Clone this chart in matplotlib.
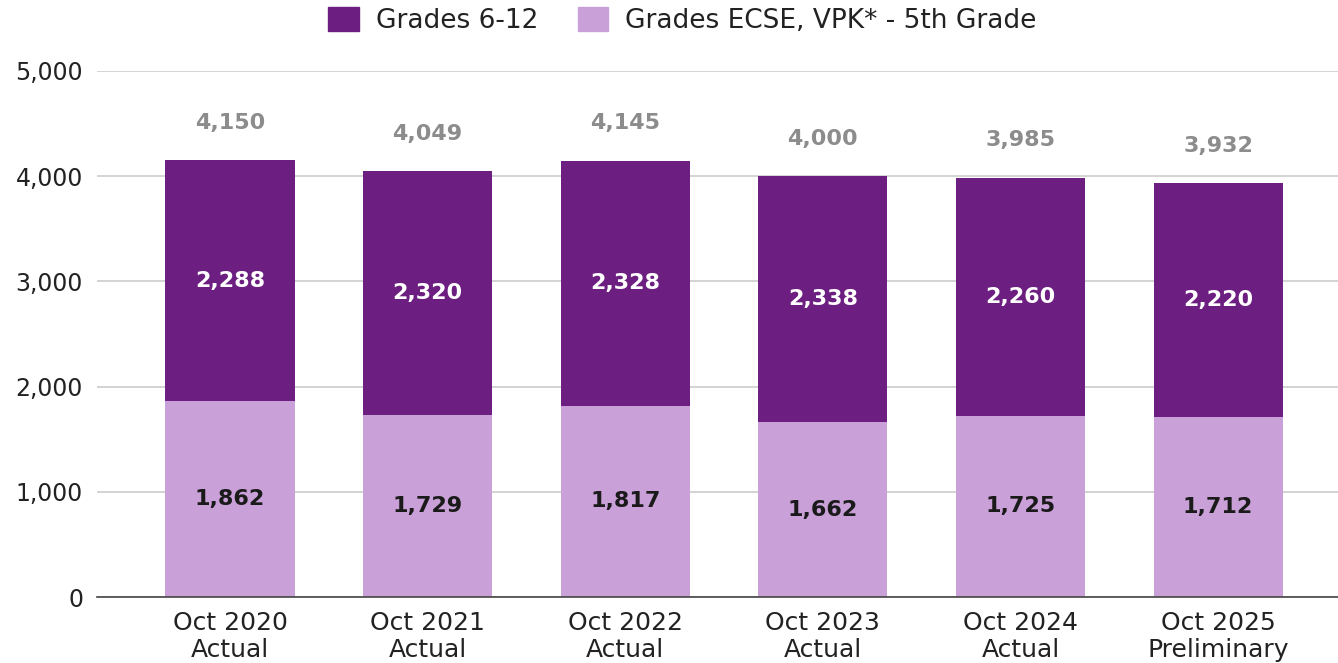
import numpy as np
import matplotlib.pyplot as plt
from matplotlib.patches import Patch

categories = ['Oct 2020\nActual', 'Oct 2021\nActual', 'Oct 2022\nActual',
              'Oct 2023\nActual', 'Oct 2024\nActual', 'Oct 2025\nPreliminary']
elem = [1862, 1729, 1817, 1662, 1725, 1712]
middle_high = [2288, 2320, 2328, 2338, 2260, 2220]
totals = [4150, 4049, 4145, 4000, 3985, 3932]

dark = '#6c1f80'
light = '#c9a0d8'

plt.rcParams['font.family'] = ['DejaVu Sans']

fig = plt.figure(figsize=(13.38, 6.63), dpi=100)
ax = fig.add_axes([0.0725, 0.0995, 0.9275, 0.7935])

x = np.arange(len(categories))
w = 0.653
ax.bar(x, elem, width=w, color=light, zorder=2)
ax.bar(x, middle_high, width=w, bottom=elem, color=dark, zorder=2)

for i in range(len(x)):
    ax.text(x[i], elem[i] / 2, f'{elem[i]:,}', ha='center', va='center',
            fontsize=16, fontweight='bold', color='#1a1a1a')
    ax.text(x[i], elem[i] + middle_high[i] / 2, f'{middle_high[i]:,}', ha='center',
            va='center', fontsize=16, fontweight='bold', color='white')
    ax.annotate(f'{totals[i]:,}', (x[i], totals[i]), xytext=(0, 27),
                textcoords='offset points', ha='center', va='center',
                fontsize=16, fontweight='bold', color='#8c8c8c')

ax.set_ylim(0, 5000)
ax.set_xlim(-0.673, 5.607)
ax.set_yticks([0, 1000, 2000, 3000, 4000, 5000])
ax.set_yticklabels(['0', '1,000', '2,000', '3,000', '4,000', '5,000'])
ax.set_xticks(x)
ax.set_xticklabels(categories, linespacing=1.15)
ax.tick_params(axis='y', length=0, pad=10, labelsize=17, labelcolor='#222222')
ax.tick_params(axis='x', length=0, pad=10, labelsize=18, labelcolor='#222222')
ax.grid(axis='y', color='#cccccc', linewidth=1.2, zorder=0)
ax.set_axisbelow(True)
for s in ['top', 'right', 'left']:
    ax.spines[s].set_visible(False)
ax.spines['bottom'].set_color('#444444')
ax.spines['bottom'].set_linewidth(1.2)

handles = [Patch(color=dark, label='Grades 6-12'),
           Patch(color=light, label='Grades ECSE, VPK* - 5th Grade')]
fig.legend(handles=handles, loc='upper center', bbox_to_anchor=(0.51, 1.026), ncol=2,
           frameon=False, fontsize=19, handlelength=1.15, handleheight=1.05,
           columnspacing=1.5, handletextpad=0.65, labelcolor='#222222')

fig.savefig('out.png', dpi=100)
